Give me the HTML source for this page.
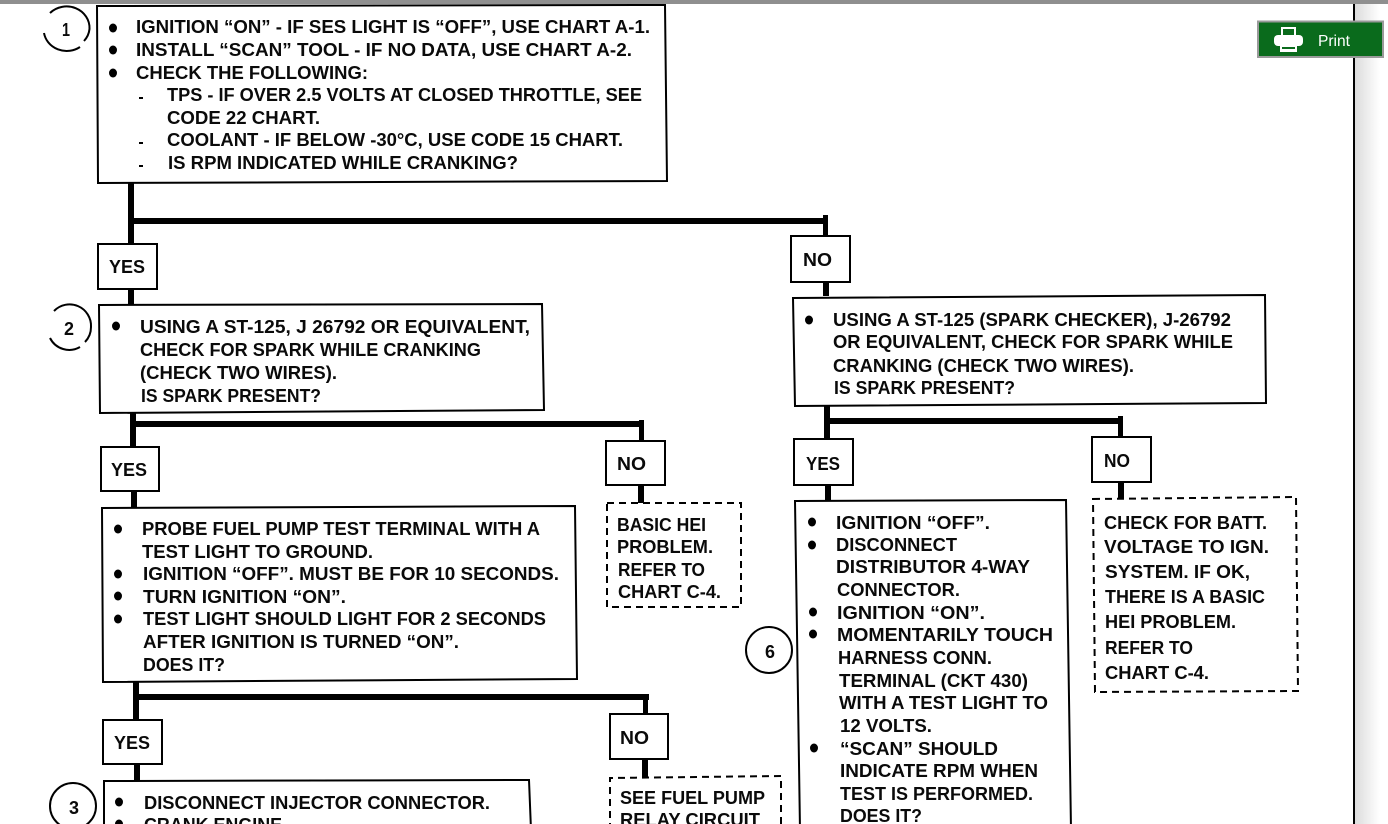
<!DOCTYPE html>
<html><head><meta charset="utf-8"><title>Flowchart</title>
<style>
html,body{margin:0;padding:0;background:#fff;overflow:hidden}
svg{display:block}
text{font-family:"Liberation Sans",sans-serif;font-weight:700;font-size:18.5px;fill:#0a0a0a}
.b{fill:none;stroke:#000;stroke-width:2}
.d{fill:none;stroke:#000;stroke-width:2;stroke-dasharray:7 5}
.c{fill:#000;stroke:#000;stroke-width:0}
</style></head><body>
<svg width="1388" height="824" viewBox="0 0 1388 824" xmlns="http://www.w3.org/2000/svg">
<defs><linearGradient id="s" x1="0" x2="1" y1="0" y2="0"><stop offset="0" stop-color="#dcdcdc"/><stop offset="0.75" stop-color="#fff"/><stop offset="1" stop-color="#fff"/></linearGradient></defs>
<rect width="1388" height="824" fill="#fff"/>
<rect x="1355" y="3" width="33" height="821" fill="url(#s)"/>
<rect x="0" y="0" width="1388" height="4" fill="#8f8f8f"/>
<rect x="1353" y="4" width="2" height="820" fill="#000"/>

<!-- connectors -->
<g class="c">
<rect x="128" y="182" width="6" height="63"/><rect x="128" y="218" width="699" height="6"/><rect x="823" y="215" width="5" height="22"/><rect x="823" y="282" width="6" height="14"/>
<rect x="128" y="289" width="6" height="15"/>
<rect x="130" y="412" width="6" height="36"/><rect x="130" y="421" width="514" height="6"/><rect x="639" y="420" width="5" height="22"/><rect x="638" y="485" width="6" height="18"/>
<rect x="131" y="491" width="6" height="16"/>
<rect x="133" y="681" width="6" height="40"/><rect x="133" y="694" width="516" height="6"/><rect x="643" y="694" width="5" height="21"/><rect x="642" y="759" width="6" height="18"/>
<rect x="134" y="764" width="6" height="17"/>
<rect x="824" y="405" width="6" height="35"/><rect x="824" y="418" width="299" height="6"/><rect x="1118" y="416" width="5" height="22"/><rect x="825" y="485" width="6" height="15"/><rect x="1118" y="482" width="6" height="16"/>
</g>

<!-- solid boxes -->
<g fill="#fff">
<path class="b" d="M97 6 L665 5 L667 181 L98 183 Z" style="fill:#fff"/>
<path class="b" d="M99 305 L542 304 L544 410 L100 413 Z" style="fill:#fff"/>
<path class="b" d="M793 298 L1265 295 L1266 403 L795 406 Z" style="fill:#fff"/>
<path class="b" d="M102 508 L575 506 L577 679 L103 682 Z" style="fill:#fff"/>
<path class="b" d="M795 501 L1066 500 L1071 830 L800 830 Z" style="fill:#fff"/>
<path class="b" d="M104 781 L529 780 L531 830 L104 830 Z" style="fill:#fff"/>
<rect class="b" x="98" y="244" width="59" height="45" style="fill:#fff"/>
<rect class="b" x="791" y="236" width="59" height="46" style="fill:#fff"/>
<rect class="b" x="101" y="447" width="58" height="44" style="fill:#fff"/>
<rect class="b" x="606" y="441" width="59" height="44" style="fill:#fff"/>
<rect class="b" x="794" y="439" width="59" height="46" style="fill:#fff"/>
<rect class="b" x="1092" y="437" width="59" height="45" style="fill:#fff"/>
<rect class="b" x="103" y="720" width="59" height="44" style="fill:#fff"/>
<rect class="b" x="610" y="714" width="58" height="45" style="fill:#fff"/>
</g>
<rect class="d" x="607" y="503" width="134" height="104"/>
<path class="d" d="M1093 499 L1296 497 L1298 691 L1095 692 Z"/>
<path class="d" d="M610 830 L610 778 L781 776 L781 830"/>

<!-- circles -->
<path class="b" d="M50 13 A23 21.5 0 0 1 89.5 29 A23 21.5 0 0 1 84 41"/><path class="b" d="M44 33 A23 21.5 0 0 0 80 47"/>
<path class="b" d="M54 311 A21.5 21.5 0 0 1 91 327 A21.5 21.5 0 0 1 85 342"/><path class="b" d="M50 338 A21.5 21.5 0 0 0 80 347"/>
<circle class="b" cx="73" cy="806" r="23"/>
<circle class="b" cx="769" cy="650" r="23"/>
<text x="62" y="36" textLength="8" lengthAdjust="spacingAndGlyphs">1</text>
<text x="64" y="335" textLength="10" lengthAdjust="spacingAndGlyphs">2</text>
<text x="69" y="814" textLength="10" lengthAdjust="spacingAndGlyphs">3</text>
<text x="765" y="658" textLength="10" lengthAdjust="spacingAndGlyphs">6</text>

<!-- bullets -->
<g fill="#000">
<ellipse cx="113" cy="28" rx="4" ry="4.5"/><ellipse cx="113" cy="50" rx="4" ry="4.5"/><ellipse cx="113" cy="73" rx="4" ry="4.5"/>
<rect x="139" y="97" width="4" height="2"/><rect x="139" y="142" width="4" height="2"/><rect x="139" y="165" width="4" height="2"/>
<ellipse cx="116" cy="326" rx="4" ry="4.5"/><ellipse cx="809" cy="320" rx="4" ry="4.5"/>
<ellipse cx="118" cy="529" rx="4" ry="4.5"/><ellipse cx="118" cy="574" rx="4" ry="4.5"/><ellipse cx="118" cy="596" rx="4" ry="4.5"/><ellipse cx="118" cy="619" rx="4" ry="4.5"/>
<ellipse cx="119" cy="802" rx="4" ry="4.5"/><ellipse cx="119" cy="824" rx="4" ry="4.5"/>
<ellipse cx="812" cy="522" rx="4" ry="4.5"/><ellipse cx="812" cy="545" rx="4" ry="4.5"/><ellipse cx="813" cy="612" rx="4" ry="4.5"/><ellipse cx="813" cy="634" rx="4" ry="4.5"/><ellipse cx="814" cy="748" rx="4" ry="4.5"/>
</g>

<!-- text -->
<g>
<text x="136" y="33" textLength="514" lengthAdjust="spacingAndGlyphs">IGNITION “ON” - IF SES LIGHT IS “OFF”, USE CHART A-1.</text>
<text x="136" y="56" textLength="496" lengthAdjust="spacingAndGlyphs">INSTALL “SCAN” TOOL - IF NO DATA, USE CHART A-2.</text>
<text x="136" y="79" textLength="232" lengthAdjust="spacingAndGlyphs">CHECK THE FOLLOWING:</text>
<text x="167" y="101" textLength="475" lengthAdjust="spacingAndGlyphs">TPS - IF OVER 2.5 VOLTS AT CLOSED THROTTLE, SEE</text>
<text x="167" y="124" textLength="153" lengthAdjust="spacingAndGlyphs">CODE 22 CHART.</text>
<text x="167" y="146" textLength="456" lengthAdjust="spacingAndGlyphs">COOLANT - IF BELOW -30°C, USE CODE 15 CHART.</text>
<text x="168" y="169" textLength="350" lengthAdjust="spacingAndGlyphs">IS RPM INDICATED WHILE CRANKING?</text>

<text x="109" y="273" textLength="36" lengthAdjust="spacingAndGlyphs">YES</text>
<text x="803" y="266" textLength="29" lengthAdjust="spacingAndGlyphs">NO</text>

<text x="140" y="333" textLength="390" lengthAdjust="spacingAndGlyphs">USING A ST-125, J 26792 OR EQUIVALENT,</text>
<text x="140" y="356" textLength="341" lengthAdjust="spacingAndGlyphs">CHECK FOR SPARK WHILE CRANKING</text>
<text x="140" y="379" textLength="197" lengthAdjust="spacingAndGlyphs">(CHECK TWO WIRES).</text>
<text x="141" y="402" textLength="180" lengthAdjust="spacingAndGlyphs">IS SPARK PRESENT?</text>

<text x="833" y="326" textLength="398" lengthAdjust="spacingAndGlyphs">USING A ST-125 (SPARK CHECKER), J-26792</text>
<text x="833" y="348" textLength="400" lengthAdjust="spacingAndGlyphs">OR EQUIVALENT, CHECK FOR SPARK WHILE</text>
<text x="833" y="372" textLength="301" lengthAdjust="spacingAndGlyphs">CRANKING (CHECK TWO WIRES).</text>
<text x="834" y="394" textLength="181" lengthAdjust="spacingAndGlyphs">IS SPARK PRESENT?</text>

<text x="111" y="476" textLength="36" lengthAdjust="spacingAndGlyphs">YES</text>
<text x="617" y="470" textLength="29" lengthAdjust="spacingAndGlyphs">NO</text>
<text x="806" y="470" textLength="34" lengthAdjust="spacingAndGlyphs">YES</text>
<text x="1104" y="467" textLength="26" lengthAdjust="spacingAndGlyphs">NO</text>

<text x="617" y="531" textLength="89" lengthAdjust="spacingAndGlyphs">BASIC HEI</text>
<text x="617" y="553" textLength="96" lengthAdjust="spacingAndGlyphs">PROBLEM.</text>
<text x="618" y="576" textLength="87" lengthAdjust="spacingAndGlyphs">REFER TO</text>
<text x="618" y="598" textLength="103" lengthAdjust="spacingAndGlyphs">CHART C-4.</text>

<text x="142" y="535" textLength="398" lengthAdjust="spacingAndGlyphs">PROBE FUEL PUMP TEST TERMINAL WITH A</text>
<text x="142" y="558" textLength="231" lengthAdjust="spacingAndGlyphs">TEST LIGHT TO GROUND.</text>
<text x="143" y="580" textLength="416" lengthAdjust="spacingAndGlyphs">IGNITION “OFF”.  MUST BE FOR 10 SECONDS.</text>
<text x="143" y="603" textLength="203" lengthAdjust="spacingAndGlyphs">TURN IGNITION “ON”.</text>
<text x="143" y="625" textLength="403" lengthAdjust="spacingAndGlyphs">TEST LIGHT SHOULD LIGHT FOR 2 SECONDS</text>
<text x="143" y="648" textLength="316" lengthAdjust="spacingAndGlyphs">AFTER IGNITION IS TURNED “ON”.</text>
<text x="143" y="671" textLength="82" lengthAdjust="spacingAndGlyphs">DOES IT?</text>

<text x="114" y="749" textLength="36" lengthAdjust="spacingAndGlyphs">YES</text>
<text x="620" y="744" textLength="29" lengthAdjust="spacingAndGlyphs">NO</text>
<text x="144" y="809" textLength="346" lengthAdjust="spacingAndGlyphs">DISCONNECT INJECTOR CONNECTOR.</text>
<text x="144" y="831" textLength="143" lengthAdjust="spacingAndGlyphs">CRANK ENGINE.</text>
<text x="620" y="804" textLength="145" lengthAdjust="spacingAndGlyphs">SEE FUEL PUMP</text>
<text x="620" y="826" textLength="140" lengthAdjust="spacingAndGlyphs">RELAY CIRCUIT</text>

<text x="836" y="529" textLength="154" lengthAdjust="spacingAndGlyphs">IGNITION “OFF”.</text>
<text x="836" y="551" textLength="121" lengthAdjust="spacingAndGlyphs">DISCONNECT</text>
<text x="836" y="573" textLength="194" lengthAdjust="spacingAndGlyphs">DISTRIBUTOR 4-WAY</text>
<text x="837" y="596" textLength="123" lengthAdjust="spacingAndGlyphs">CONNECTOR.</text>
<text x="837" y="619" textLength="148" lengthAdjust="spacingAndGlyphs">IGNITION “ON”.</text>
<text x="837" y="641" textLength="216" lengthAdjust="spacingAndGlyphs">MOMENTARILY TOUCH</text>
<text x="838" y="664" textLength="154" lengthAdjust="spacingAndGlyphs">HARNESS CONN.</text>
<text x="839" y="687" textLength="189" lengthAdjust="spacingAndGlyphs">TERMINAL (CKT 430)</text>
<text x="839" y="709" textLength="209" lengthAdjust="spacingAndGlyphs">WITH A TEST LIGHT TO</text>
<text x="840" y="732" textLength="92" lengthAdjust="spacingAndGlyphs">12 VOLTS.</text>
<text x="840" y="755" textLength="158" lengthAdjust="spacingAndGlyphs">“SCAN” SHOULD</text>
<text x="840" y="777" textLength="198" lengthAdjust="spacingAndGlyphs">INDICATE RPM WHEN</text>
<text x="840" y="800" textLength="193" lengthAdjust="spacingAndGlyphs">TEST IS PERFORMED.</text>
<text x="840" y="822" textLength="82" lengthAdjust="spacingAndGlyphs">DOES IT?</text>

<text x="1104" y="529" textLength="163" lengthAdjust="spacingAndGlyphs">CHECK FOR BATT.</text>
<text x="1104" y="553" textLength="165" lengthAdjust="spacingAndGlyphs">VOLTAGE TO IGN.</text>
<text x="1105" y="578" textLength="145" lengthAdjust="spacingAndGlyphs">SYSTEM.  IF OK,</text>
<text x="1105" y="603" textLength="160" lengthAdjust="spacingAndGlyphs">THERE IS A BASIC</text>
<text x="1105" y="628" textLength="131" lengthAdjust="spacingAndGlyphs">HEI PROBLEM.</text>
<text x="1105" y="654" textLength="88" lengthAdjust="spacingAndGlyphs">REFER TO</text>
<text x="1105" y="679" textLength="104" lengthAdjust="spacingAndGlyphs">CHART C-4.</text>
</g>

<!-- print button -->
<rect x="1258" y="21.5" width="125" height="35.5" fill="#0a6b1c" stroke="#9a9a9a" stroke-width="2"/>
<g fill="#fff">
<path d="M1281 36 V27 H1296 V36 Z M1283 29 V35 H1294 V29 Z" fill-rule="evenodd"/>
<rect x="1274" y="35" width="29" height="11" rx="4"/>
<rect x="1280" y="45" width="17" height="7"/>
</g>
<rect x="1282" y="47" width="13" height="2" fill="#0a6b1c"/>
<text x="1318" y="46" textLength="32" lengthAdjust="spacingAndGlyphs" style="font-weight:400;font-size:16px;fill:#fff">Print</text>
</svg>
</body></html>
